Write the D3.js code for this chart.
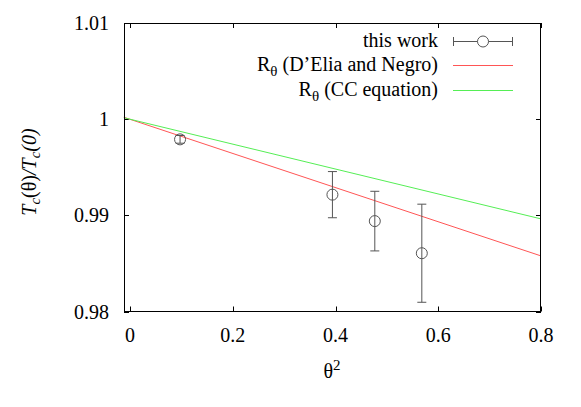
<!DOCTYPE html>
<html><head><meta charset="utf-8">
<script src="https://cdn.jsdelivr.net/npm/d3@7"></script>
</head><body style="margin:0">
<script>
const theta2 = [0.0974, 0.394, 0.4765, 0.568];
const ratio = [0.9979, 0.99215, 0.9894, 0.98606];
const errors = [0.0004, 0.0024, 0.0031, 0.0051];
const lineX = [-0.012, 0.8];
const dEliaNegro = [1.0002, 0.98578];
const ccEquation = [1.00015, 0.98963];
const xTicks = [0, 0.2, 0.4, 0.6, 0.8];
const yTicks = [0.98, 0.99, 1, 1.01];
const legendLabels = ["this work", "R\u03b8 (D\u2019Elia and Negro)", "R\u03b8 (CC equation)"];

const FONT = "'Liberation Serif'";
const W = 581, H = 407;
const L = 124, R = 541, T = 23, B = 311.5;
const svg = d3.select("body").append("svg").attr("width", W).attr("height", H).style("display", "block");
const txt = (sel) => sel.append("text").attr("font-family", "Liberation Serif").style("font-family", FONT);
const x = d3.scaleLinear().domain([-0.0117, 0.8]).range([L, R]);
const y = d3.scaleLinear().domain([0.98, 1.01]).range([B, T]);

const fmtX = d => d === 0 ? "0" : d3.format(".1f")(d);
const fmtY = d => d === 1 ? "1" : String(+d.toFixed(2));

const tk = 5;
const g = svg.append("g").attr("stroke", "#000").attr("stroke-width", 1);
xTicks.forEach(t => {
  const px = Math.round(x(t)) + 0.5;
  g.append("line").attr("x1", px).attr("x2", px).attr("y1", B).attr("y2", B - tk);
  g.append("line").attr("x1", px).attr("x2", px).attr("y1", T).attr("y2", T + tk);
  txt(svg).attr("x", x(t)).attr("y", 342).attr("text-anchor", "middle").attr("font-size", 20).text(fmtX(t));
});
yTicks.forEach(t => {
  const py = Math.round(y(t)) + 0.5;
  g.append("line").attr("x1", L).attr("x2", L + tk).attr("y1", py).attr("y2", py);
  g.append("line").attr("x1", R).attr("x2", R - tk).attr("y1", py).attr("y2", py);
  txt(svg).attr("x", 109).attr("y", y(t) + 7).attr("text-anchor", "end").attr("font-size", 20).text(fmtY(t));
});

const line = d3.line().x(d => x(d[0])).y(d => y(d[1]));
svg.append("path").datum(d3.zip(lineX, dEliaNegro)).attr("d", line).attr("fill", "none").attr("stroke", "#ff5555").attr("stroke-width", 1);
svg.append("path").datum(d3.zip(lineX, ccEquation)).attr("d", line).attr("fill", "none").attr("stroke", "#55ee55").attr("stroke-width", 1);

const pc = "#555";
const cap = 4.5;
theta2.forEach((t, i) => {
  const cx = x(t), v = ratio[i], e = errors[i];
  const eg = svg.append("g").attr("stroke", pc).attr("stroke-width", 1).attr("fill", "none");
  eg.append("line").attr("x1", cx).attr("x2", cx).attr("y1", y(v + e)).attr("y2", y(v - e));
  eg.append("line").attr("x1", cx - cap).attr("x2", cx + cap).attr("y1", y(v + e)).attr("y2", y(v + e));
  eg.append("line").attr("x1", cx - cap).attr("x2", cx + cap).attr("y1", y(v - e)).attr("y2", y(v - e));
  eg.append("circle").attr("cx", cx).attr("cy", y(v)).attr("r", 5.5).attr("fill", "none");
});

svg.append("rect").attr("x", L + 0.5).attr("y", T + 0.5).attr("width", R - L - 1).attr("height", B - T - 0.5)
  .attr("fill", "none").attr("stroke", "#000").attr("stroke-width", 1);

const ly = [41, 65, 90];
const lx1 = 453, lx2 = 513;
legendLabels.forEach((lab, i) => {
  const tx = txt(svg).attr("x", 438).attr("y", ly[i] + 6).attr("text-anchor", "end").attr("font-size", 20);
  if (i === 0) tx.text(lab);
  else {
    tx.append("tspan").text("R");
    tx.append("tspan").attr("font-size", 15).attr("dy", 5).text("\u03b8");
    tx.append("tspan").attr("dy", -5).text(lab.slice(2));
  }
});
const lg = svg.append("g").attr("stroke", pc).attr("fill", "none");
lg.append("line").attr("x1", lx1).attr("x2", lx2).attr("y1", ly[0] + 0.5).attr("y2", ly[0] + 0.5);
lg.append("line").attr("x1", lx1 + 0.5).attr("x2", lx1 + 0.5).attr("y1", ly[0] - 4).attr("y2", ly[0] + 5);
lg.append("line").attr("x1", lx2 - 0.5).attr("x2", lx2 - 0.5).attr("y1", ly[0] - 4).attr("y2", ly[0] + 5);
lg.append("circle").attr("cx", 483).attr("cy", ly[0] + 0.5).attr("r", 5.5).attr("fill", "#fff");
svg.append("line").attr("x1", lx1).attr("x2", lx2).attr("y1", ly[1] + 0.5).attr("y2", ly[1] + 0.5).attr("stroke", "#ff5555");
svg.append("line").attr("x1", lx1).attr("x2", lx2).attr("y1", ly[2] + 0.5).attr("y2", ly[2] + 0.5).attr("stroke", "#55ee55");

const xl = txt(svg).attr("x", 332).attr("y", 378).attr("text-anchor", "middle").attr("font-size", 20);
xl.append("tspan").text("\u03b8");
xl.append("tspan").attr("font-size", 15).attr("dy", -8).text("2");

const yl = txt(svg).attr("transform", "translate(36,172) rotate(-90)").attr("text-anchor", "middle").attr("font-size", 20).attr("font-style", "italic");
yl.append("tspan").text("T");
yl.append("tspan").attr("font-size", 15).attr("dy", 4).text("c");
yl.append("tspan").attr("dy", -4).attr("font-style", "normal").text("(\u03b8)");
yl.append("tspan").text("/T");
yl.append("tspan").attr("font-size", 15).attr("dy", 4).text("c");
yl.append("tspan").attr("dy", -4).text("(0)");
</script>
</body></html>
